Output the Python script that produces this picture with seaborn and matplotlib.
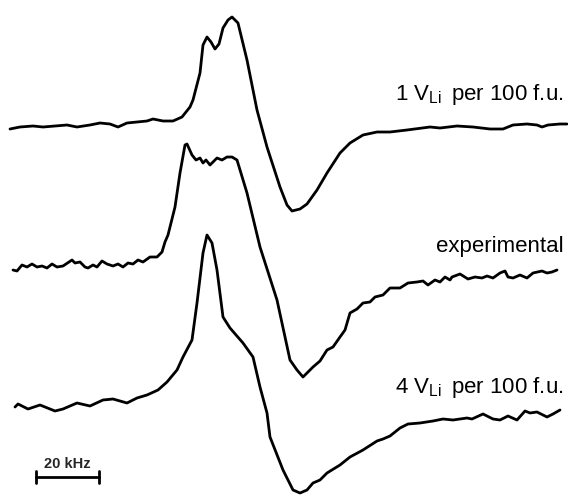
import matplotlib
matplotlib.use("Agg")
import pandas as pd
import seaborn as sns
import matplotlib.pyplot as plt

# traces (x in px, y in px from top)
x_1v = [10, 20, 33, 43, 55, 67, 77, 90, 100, 110, 118, 127, 137, 147, 153, 163, 173, 182, 190,
        193, 200, 203, 207, 211, 215, 219, 223, 228, 232, 238, 247, 257, 267, 280, 287, 292,
        300, 307, 317, 327, 340, 350, 363, 377, 390, 407, 430, 440, 457, 473, 490, 503, 513,
        527, 537, 542, 548, 560, 567]
y_1v = [129, 127, 126, 127, 126, 125, 127, 125, 123, 124, 127, 123, 122, 121, 119, 121, 121, 117, 107,
        100, 73, 45, 37, 42, 49, 44, 28, 20, 17, 23, 60, 110, 147, 187, 205, 211,
        209, 204, 190, 173, 153, 143, 135, 132, 132, 130, 127, 128, 126, 127, 129, 129, 125,
        124, 125, 127, 125, 124, 124]

x_exp = [13, 17, 22, 27, 32, 37, 42, 47, 52, 57, 63, 72, 75, 80, 85, 88, 93, 97, 102, 107,
         113, 118, 123, 128, 133, 138, 143, 150, 157, 162, 165, 168, 175, 180, 185, 187,
         192, 196, 200, 203, 206, 210, 214, 217, 222, 227, 232, 237, 247, 260, 277, 290,
         297, 303, 308, 313, 320, 327, 333, 340, 345, 350, 357, 363, 370, 375, 383, 390,
         400, 408, 417, 423, 428, 435, 440, 445, 450, 452, 460, 468, 475, 482, 487, 493,
         500, 505, 508, 513, 520, 527, 533, 542, 547, 552, 557]
y_exp = [270, 271, 265, 267, 264, 267, 266, 268, 264, 267, 266, 260, 263, 262, 267, 268, 265, 267, 261, 264,
         266, 264, 267, 263, 264, 260, 262, 257, 257, 252, 242, 235, 207, 173, 145, 144,
         155, 160, 158, 163, 160, 165, 161, 158, 160, 157, 157, 160, 193, 247, 300, 360,
         370, 377, 372, 367, 361, 350, 347, 337, 330, 313, 309, 303, 302, 297, 295, 288,
         288, 283, 282, 281, 285, 280, 282, 277, 280, 277, 274, 279, 277, 278, 276, 278,
         273, 271, 277, 278, 275, 278, 273, 271, 273, 272, 270]

x_4v = [15, 18, 28, 40, 55, 63, 77, 90, 103, 113, 127, 137, 147, 158, 167, 177, 183, 192,
        197, 203, 207, 212, 217, 223, 230, 243, 253, 260, 267, 270, 283, 293, 300, 307,
        313, 320, 327, 340, 350, 363, 377, 383, 390, 400, 408, 420, 433, 443, 453, 467,
        472, 483, 493, 500, 508, 517, 525, 530, 537, 547, 553, 560]
y_4v = [407, 404, 409, 405, 411, 409, 403, 406, 400, 399, 403, 398, 395, 390, 382, 370, 357, 340,
        303, 253, 235, 243, 270, 317, 328, 343, 357, 387, 413, 437, 470, 490, 493, 490,
        483, 480, 473, 465, 457, 450, 441, 439, 436, 428, 424, 423, 421, 419, 420, 418,
        419, 414, 419, 420, 416, 420, 411, 413, 412, 417, 414, 410]

labels = [r"1 V$_{\rm Li}\,$ per 100 f.u.", "experimental", r"4 V$_{\rm Li}\,$ per 100 f.u."]
label_y = [100, 252, 393]
scale_label = "20 kHz"

sns.set_style("white")
plt.rcParams["font.family"] = ["Liberation Sans", "DejaVu Sans"]
plt.rcParams["mathtext.fontset"] = "custom"
plt.rcParams["mathtext.rm"] = "Liberation Sans"

fig = plt.figure(figsize=(5.68, 4.95), dpi=100)
ax = fig.add_axes([0, 0, 1, 1])

for xs, ys in [(x_1v, y_1v), (x_exp, y_exp), (x_4v, y_4v)]:
    df = pd.DataFrame({"x": xs, "y": ys})
    sns.lineplot(data=df, x="x", y="y", sort=False, estimator=None,
                 color="black", linewidth=2.0, ax=ax)

for lab, yy in zip(labels, label_y):
    ax.text(564, yy, lab, ha="right", va="baseline", fontsize=16, color="black")

# scale bar
ax.plot([36, 99], [477, 477], color="black", lw=2)
ax.plot([36, 36], [471, 483], color="black", lw=2)
ax.plot([99, 99], [471, 483], color="black", lw=2)
ax.text(67, 468, scale_label, ha="center", va="baseline", fontsize=10.5, fontweight="bold")

ax.set_xlim(0, 568)
ax.set_ylim(495, 0)
ax.set_axis_off()

fig.savefig("out.png", dpi=100)
